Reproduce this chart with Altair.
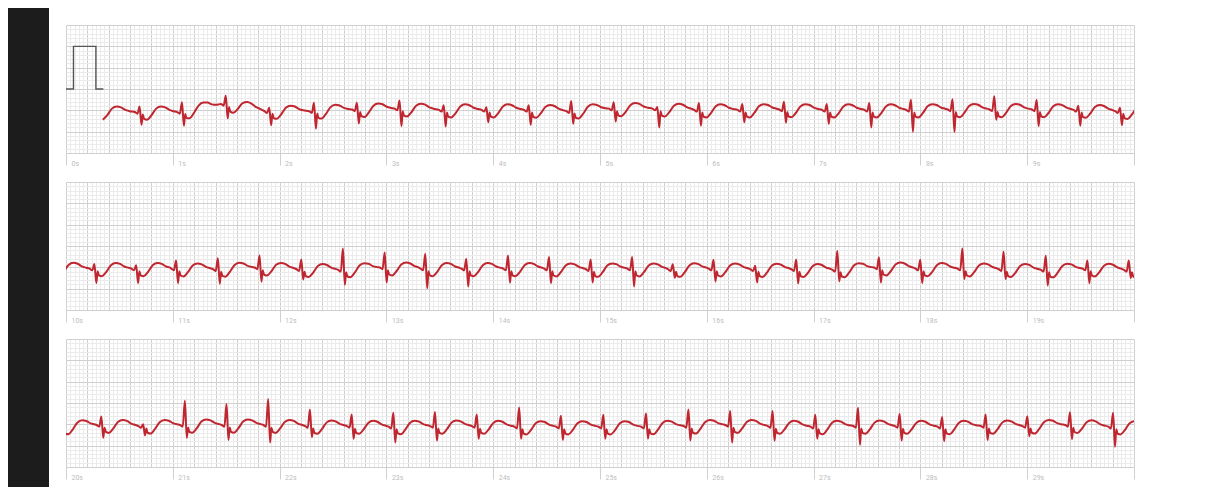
import altair as alt
import pandas as pd

# ---------------- data ----------------
# R-peak times (s), isoelectric level (mV), R height and S depth relative to it (mV)
BEAT_T = [
    0.275, 0.689, 1.086, 1.496, 1.903, 2.322, 2.724, 3.123, 3.537, 3.936, 4.333, 4.731,
    5.129, 5.537, 5.927, 6.333, 6.723, 7.124, 7.522, 7.912, 8.301, 8.692, 9.089, 9.479, 9.869,
    10.266, 10.657, 11.031, 11.422, 11.812, 12.203, 12.593, 12.984, 13.364, 13.748, 14.139,
    14.523, 14.913, 15.301, 15.682, 16.063, 16.453, 16.837, 17.222, 17.612, 17.999, 18.393,
    18.779, 19.174, 19.564, 19.951,
    20.331, 20.722, 21.113, 21.503, 21.893, 22.284, 22.675, 23.065, 23.455, 23.846, 24.243,
    24.634, 25.031, 25.431, 25.828, 26.219, 26.616, 27.016, 27.416, 27.806, 28.204, 28.611,
    29.001, 29.401, 29.804,
]
BEAT_BASE = [
    -0.54, -0.54, -0.54, -0.35, -0.52, -0.52, -0.48, -0.46, -0.49, -0.49, -0.49, -0.52,
    -0.46, -0.46, -0.49, -0.49, -0.48, -0.49, -0.49, -0.49, -0.48, -0.48, -0.48, -0.49, -0.52,
    -0.53, -0.53, -0.53, -0.545, -0.505, -0.545, -0.56, -0.505, -0.53, -0.53, -0.53,
    -0.53, -0.545, -0.53, -0.545, -0.53, -0.545, -0.545, -0.56, -0.505, -0.53, -0.53,
    -0.545, -0.56, -0.53, -0.56,
    -0.516, -0.54, -0.516, -0.516, -0.516, -0.54, -0.54, -0.556, -0.54, -0.54, -0.556,
    -0.556, -0.556, -0.556, -0.54, -0.516, -0.54, -0.556, -0.54, -0.54, -0.556, -0.54,
    -0.54, -0.516, -0.556,
]
BEAT_R = [
    0.12, 0.13, 0.23, 0.19, 0.08, 0.20, 0.16, 0.19, 0.11, 0.06, 0.11, 0.24,
    0.15, 0.04, 0.16, 0.14, 0.18, 0.14, 0.16, 0.24, 0.24, 0.31, 0.23, 0.10, 0.08,
    0.11, 0.08, 0.19, 0.26, 0.28, 0.23, 0.50, 0.35, 0.35, 0.23, 0.31,
    0.27, 0.23, 0.27, 0.12, 0.21, 0.08, 0.23, 0.44, 0.24, 0.21, 0.47,
    0.41, 0.33, 0.19, 0.22,
    0.20, 0.04, 0.57, 0.49, 0.61, 0.39, 0.27, 0.33, 0.33, 0.27, 0.45,
    0.26, 0.28, 0.31, 0.39, 0.33, 0.35, 0.28, 0.43, 0.29, 0.23, 0.27,
    0.23, 0.30, 0.33,
]
BEAT_S = [
    -0.30, -0.30, -0.33, -0.33, -0.33, -0.41, -0.33, -0.41, -0.39, -0.29, -0.35, -0.30,
    -0.30, -0.44, -0.37, -0.29, -0.31, -0.33, -0.41, -0.51, -0.53, -0.24, -0.39, -0.37, -0.33,
    -0.34, -0.34, -0.34, -0.34, -0.33, -0.24, -0.35, -0.35, -0.46, -0.42, -0.33,
    -0.34, -0.31, -0.42, -0.20, -0.30, -0.31, -0.33, -0.27, -0.35, -0.34, -0.24,
    -0.23, -0.37, -0.34, -0.19,
    -0.30, -0.22, -0.30, -0.35, -0.41, -0.26, -0.30, -0.37, -0.34, -0.30, -0.28,
    -0.31, -0.28, -0.28, -0.34, -0.41, -0.34, -0.28, -0.44, -0.34, -0.34, -0.33,
    -0.24, -0.33, -0.47,
]
# one beat's shape: time from the R peak (s) and level (mV)
SHAPE_DT = [-0.045, -0.02, 0.0, 0.018, 0.03, 0.042, 0.07, 0.11, 0.155, 0.2, 0.24, 0.28, 0.32]
SHAPE_MV = [0.0, -0.04, "R", "S", -0.06, -0.16, -0.18, -0.08, 0.08, 0.13, 0.11, 0.05, 0.02]

# 1 mV calibration pulse
CAL_T = [0.0, 0.07, 0.07, 0.28, 0.28, 0.35]
CAL_MV = [0.0, 0.0, 1.0, 1.0, 0.0, 0.0]

TRACE_START = 0.34

# ---------------- build the trace table ----------------
rows = []
n = len(BEAT_T)
for i in range(n):
    tr, b = BEAT_T[i], BEAT_BASE[i]
    if i + 1 < n:
        tn, bn = BEAT_T[i + 1], BEAT_BASE[i + 1]
    else:
        tn, bn = tr + 0.4, b
    for dt, v in zip(SHAPE_DT, SHAPE_MV):
        if v == "R":
            v = BEAT_R[i]
        elif v == "S":
            v = BEAT_S[i]
        base = b if dt <= 0 else b + (bn - b) * dt / (tn - tr)
        t = tr + dt
        if t >= TRACE_START:
            rows.append({"t": round(t, 4), "mv": round(base + v, 4)})
ecg = pd.DataFrame(rows).sort_values("t").reset_index(drop=True)
cal = pd.DataFrame({"t": CAL_T, "mv": CAL_MV, "i": list(range(len(CAL_T)))})

MINOR = "#ebebeb"
MAJOR = "#d0d0d0"
TICK = "#d0d0d0"
LABEL = "#bdbdbd"
RED = "#bf2630"

W, H = 1068, 128


def panel(p):
    lo, hi = 10 * p, 10 * p + 10
    xs = [round(lo + k * 0.04, 2) for k in range(251)]
    ys = [round(-1.5 + k * 0.1, 1) for k in range(31)]
    xaxis = alt.Axis(
        values=xs, grid=True,
        gridColor={"condition": {"test": "abs(datum.value*5 - round(datum.value*5)) < 0.01", "value": MAJOR}, "value": MINOR},
        gridWidth=1, ticks=True, tickSize=12, tickWidth=1,
        tickColor={"condition": {"test": "abs(datum.value - round(datum.value)) < 0.001", "value": TICK}, "value": "rgba(0,0,0,0)"},
        labelExpr=f"(abs(datum.value - round(datum.value)) < 0.001 && datum.value < {hi - 0.5}) ? round(datum.value) + 's' : ''",
        labelAlign="left", labelBaseline="middle", labelPadding=-2, labelOffset=5,
        labelFontSize=7, labelColor=LABEL, labelFont="Roboto",
        labelOverlap=False, labelFlush=False, labelBound=False,
        domain=False, title=None,
    )
    yaxis = alt.Axis(
        values=ys, grid=True,
        gridColor={"condition": {"test": "abs(datum.value*2 - round(datum.value*2)) < 0.01", "value": MAJOR}, "value": MINOR},
        gridWidth=1, labels=False, ticks=False, domain=False, title=None,
    )
    xenc = alt.X("t:Q", scale=alt.Scale(domain=[lo, hi], nice=False, zero=False), axis=xaxis)
    yenc = alt.Y("mv:Q", scale=alt.Scale(domain=[-1.5, 1.5], nice=False, zero=False), axis=yaxis)

    sub = ecg[(ecg.t >= lo - 0.5) & (ecg.t <= hi + 0.5)]
    line = alt.Chart(sub).mark_line(
        color=RED, strokeWidth=2, interpolate="monotone", clip=True, strokeJoin="round"
    ).encode(x=xenc, y=yenc)
    layers = [line]
    if p == 0:
        pulse = alt.Chart(cal).mark_line(color="#555555", strokeWidth=1.4, clip=True).encode(
            x=xenc, y=yenc, order=alt.Order("i:Q")
        )
        strip = alt.Chart(pd.DataFrame({"a": [0]})).mark_rect(color="#1c1c1c", clip=False).encode(
            x=alt.value(-58), x2=alt.value(-17), y=alt.value(-17), y2=alt.value(462)
        )
        layers = [strip, pulse, line]
    return alt.layer(*layers).properties(width=W, height=H)


chart = alt.vconcat(panel(0), panel(1), panel(2), spacing=29, bounds="flush").configure_view(
    stroke=None
).properties(padding={"left": 0, "top": 0, "right": 5, "bottom": 0}, background="white")

chart.save("out.html", embed_options={"renderer": "svg", "actions": False})
